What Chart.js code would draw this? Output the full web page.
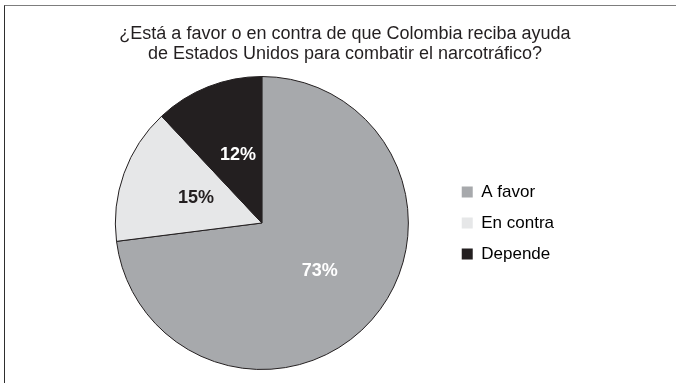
<!DOCTYPE html>
<html lang="es">
<head>
<meta charset="utf-8">
<title>Ayuda de Estados Unidos</title>
<script src="https://cdn.jsdelivr.net/npm/chart.js@4.4.1/dist/chart.umd.min.js"></script>
<style>
  html, body { margin: 0; padding: 0; background: #fff; overflow: hidden; }
  .frame {
    position: relative;
    width: 676px;
    height: 383px;
  }
  .frame-lines {
    position: absolute;
    left: 4px;
    top: 5px;
    right: 0;
    bottom: 0;
    border-top: 1px solid #7d7d7d;
    border-left: 1px solid #2e2e2e;
  }
  .chart-title {
    position: absolute;
    left: 14px;
    top: 23px;
    width: 662px;
    text-align: center;
    font: 18px/20px "Liberation Sans", Arial, sans-serif;
    color: #231f20;
  }
  canvas { position: absolute; left: 0; top: 0; }
</style>
</head>
<body>
<div class="frame">
  <div class="frame-lines"></div>
  <canvas id="pieChart" width="676" height="383"></canvas>
  <div class="chart-title" id="chartTitle"></div>
</div>
<script>
const titleLines = [
  "¿Está a favor o en contra de que Colombia reciba ayuda",
  "de Estados Unidos para combatir el narcotráfico?",
];
const labels = ["A favor", "En contra", "Depende"];
const values = [73, 15, 12];
const sliceColors = ["#a7a9ac", "#e6e7e8", "#231f20"];
const valueColors = ["#ffffff", "#231f20", "#ffffff"];

document.getElementById("chartTitle").innerHTML = titleLines.join("<br>");

// percentage written in the middle of each slice
const sliceLabels = {
  id: "sliceLabels",
  afterDatasetsDraw(chart) {
    const ctx = chart.ctx;
    const meta = chart.getDatasetMeta(0);
    ctx.save();
    ctx.font = "bold 18px 'Liberation Sans', Arial, sans-serif";
    ctx.textAlign = "center";
    ctx.textBaseline = "middle";
    meta.data.forEach((arc, i) => {
      const pos = arc.tooltipPosition();
      ctx.fillStyle = valueColors[i];
      ctx.fillText(values[i] + "%", pos.x + 3, pos.y);
    });
    ctx.restore();
  },
};

Chart.defaults.font.family = "'Liberation Sans', Arial, sans-serif";
Chart.defaults.color = "#231f20";

new Chart(document.getElementById("pieChart"), {
  type: "pie",
  data: {
    labels: labels,
    datasets: [
      {
        data: values,
        backgroundColor: sliceColors,
        borderColor: "#231f20",
        borderWidth: 1,
      },
    ],
  },
  options: {
    responsive: false,
    animation: false,
    layout: {
      padding: { left: 76, right: 112, top: 76, bottom: 13 },
    },
    plugins: {
      title: { display: false },
      tooltip: { enabled: false },
      legend: {
        position: "right",
        labels: {
          boxWidth: 11,
          boxHeight: 11,
          padding: 14,
          font: { size: 17 },
          color: "#231f20",
          generateLabels(chart) {
            return labels.map((label, i) => ({
              text: label,
              fillStyle: sliceColors[i],
              strokeStyle: sliceColors[i],
              lineWidth: 0,
              hidden: false,
              index: i,
            }));
          },
        },
      },
    },
  },
  plugins: [sliceLabels],
});
</script>
</body>
</html>
